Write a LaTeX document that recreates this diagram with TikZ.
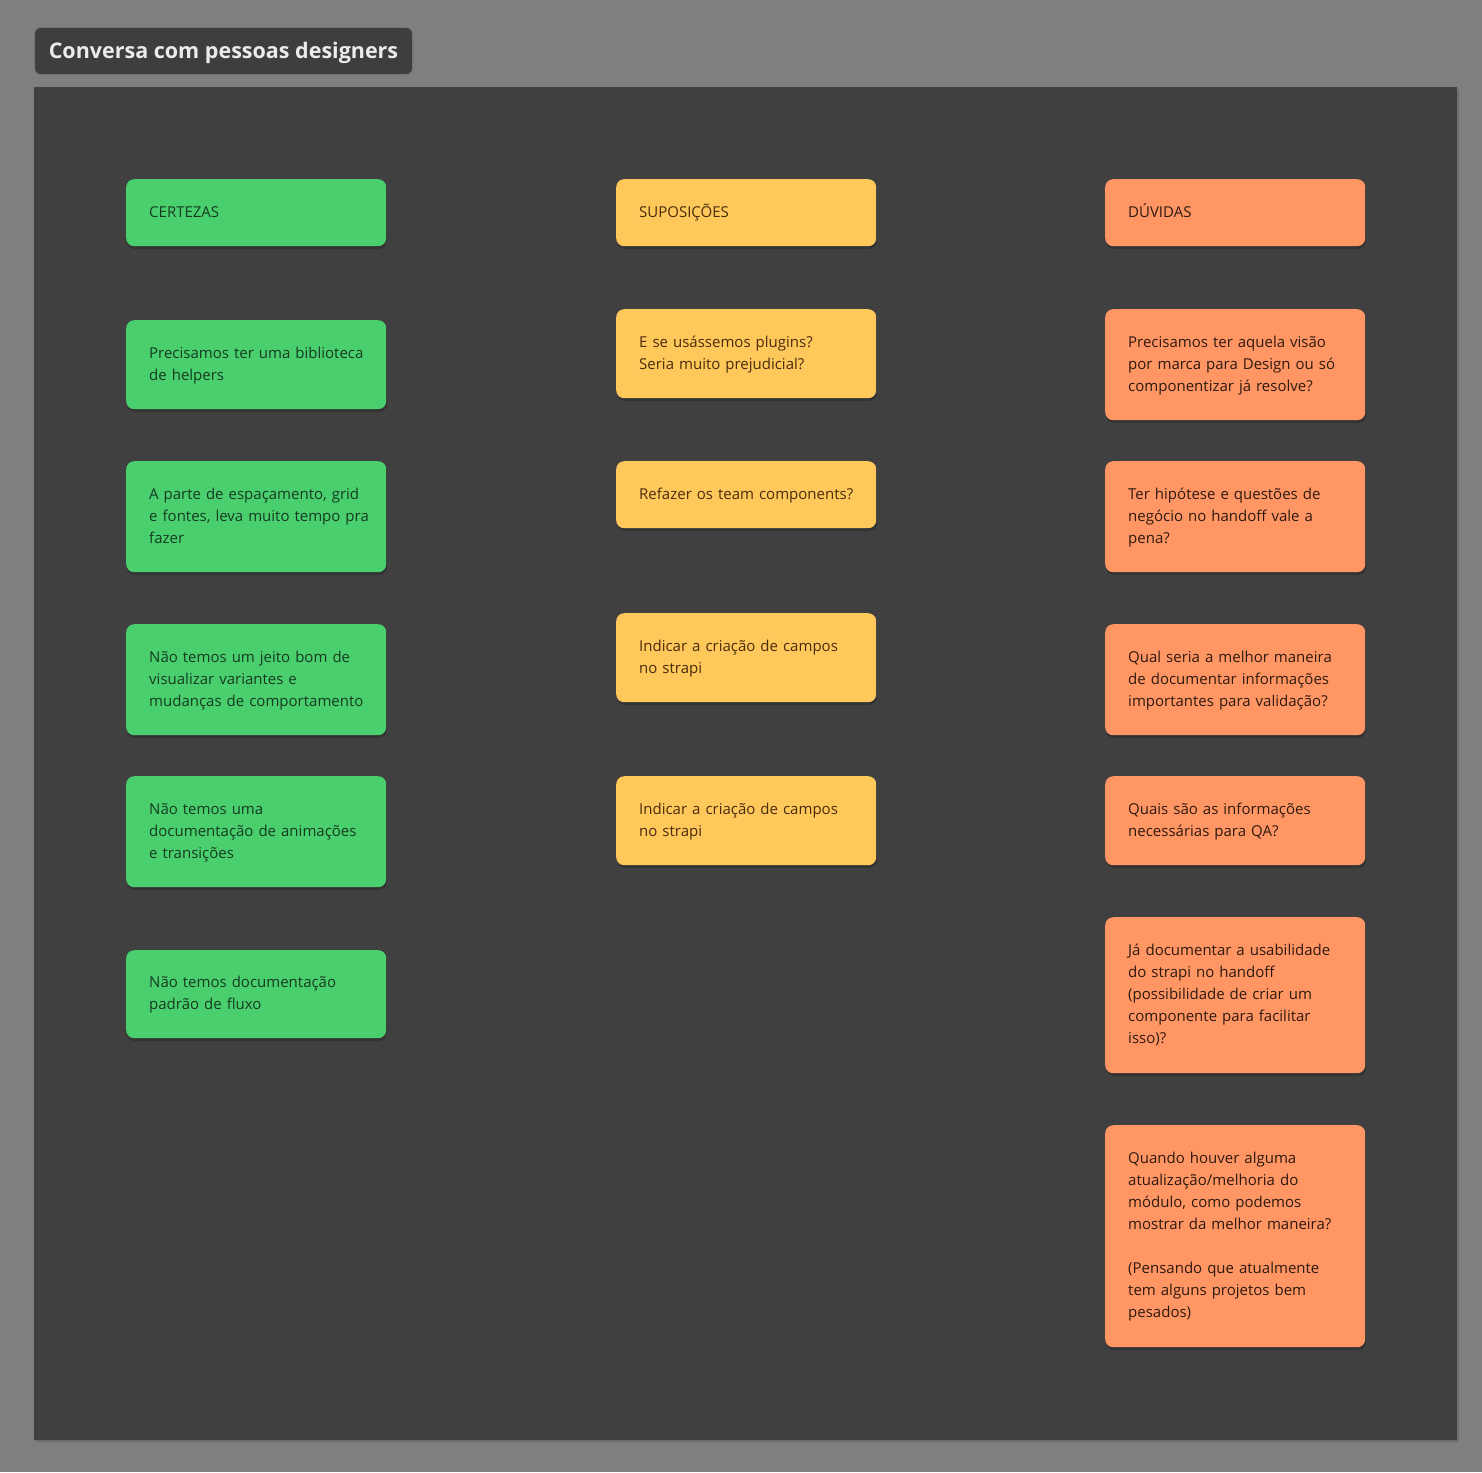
\documentclass[tikz,border=0pt]{standalone}
\usepackage{fontspec}
\setmainfont{Open Sans}
\definecolor{bggray}{HTML}{7F7F7F}
\definecolor{panel}{HTML}{404040}
\definecolor{titlebox}{HTML}{3E3E3E}
\definecolor{cgreen}{HTML}{4ACF6F}
\definecolor{cyellow}{HTML}{FFC85A}
\definecolor{corange}{HTML}{FF9664}
\definecolor{tgreen}{HTML}{163B20}
\definecolor{tyellow}{HTML}{4A2C0E}
\definecolor{torange}{HTML}{2E1A10}
\newcommand{\mycard}[6]{%
  \fill[black,opacity=0.2,rounded corners=8pt] (#2+1,#3+3) rectangle ++(260,#4);
  \node[#5, minimum height=#4 pt] (#1) at (#2,#3) {\begin{tabular}{@{}l@{}}#6\end{tabular}};
}
\begin{document}
\begin{tikzpicture}[x=1pt,y=-1pt,
  cardbase/.style={rounded corners=8pt, minimum width=260pt, text width=214pt, inner xsep=23pt, inner ysep=0pt, align=left, anchor=north west, font=\fontsize{15}{22}\selectfont},
  greencard/.style={cardbase, fill=cgreen, text=tgreen},
  yellowcard/.style={cardbase, fill=cyellow, text=tyellow},
  orangecard/.style={cardbase, fill=corange, text=torange},
]
% background
\fill[bggray] (0,0) rectangle (1482,1472);
\useasboundingbox (0,0) rectangle (1482,1472);
% panel
\fill[black,opacity=0.15] (36,89) rectangle (1459,1442);
\fill[panel] (34,87) rectangle (1457,1440);
% title
\node[draw=black!55, fill=titlebox, rounded corners=6pt, line width=1pt, anchor=north west, minimum width=378pt, minimum height=47pt, inner xsep=0pt, inner ysep=0pt, text height=17.5pt, text depth=2.5pt, text=white!92!black, font=\fontsize{21.5}{24}\selectfont\bfseries] (title) at (34,27) {Conversa com pessoas designers};
% green column
\mycard{g0}{126}{179}{67}{greencard}{CERTEZAS}
\mycard{g1}{126}{320}{89}{greencard}{Precisamos ter uma biblioteca\\de helpers}
\mycard{g2}{126}{461}{111}{greencard}{A parte de espaçamento, grid\\e fontes, leva muito tempo pra\\fazer}
\mycard{g3}{126}{624}{111}{greencard}{Não temos um jeito bom de\\visualizar variantes e\\mudanças de comportamento}
\mycard{g4}{126}{776}{111}{greencard}{Não temos uma\\documentação de animações\\e transições}
\mycard{g5}{126}{950}{88}{greencard}{Não temos documentação\\padrão de fluxo}
% yellow column
\mycard{y0}{616}{179}{67}{yellowcard}{SUPOSIÇÕES}
\mycard{y1}{616}{309}{89}{yellowcard}{E se usássemos plugins?\\Seria muito prejudicial?}
\mycard{y2}{616}{461}{67}{yellowcard}{Refazer os team components?}
\mycard{y3}{616}{613}{89}{yellowcard}{Indicar a criação de campos\\no strapi}
\mycard{y4}{616}{776}{89}{yellowcard}{Indicar a criação de campos\\no strapi}
% orange column
\mycard{o0}{1105}{179}{67}{orangecard}{DÚVIDAS}
\mycard{o1}{1105}{309}{111}{orangecard}{Precisamos ter aquela visão\\por marca para Design ou só\\componentizar já resolve?}
\mycard{o2}{1105}{461}{111}{orangecard}{Ter hipótese e questões de\\negócio no handoff vale a\\pena?}
\mycard{o3}{1105}{624}{111}{orangecard}{Qual seria a melhor maneira\\de documentar informações\\importantes para validação?}
\mycard{o4}{1105}{776}{89}{orangecard}{Quais são as informações\\necessárias para QA?}
\mycard{o5}{1105}{917}{156}{orangecard}{Já documentar a usabilidade\\do strapi no handoff\\(possibilidade de criar um\\componente para facilitar\\isso)?}
\mycard{o6}{1105}{1125}{222}{orangecard}{Quando houver alguma\\atualização/melhoria do\\módulo, como podemos\\mostrar da melhor maneira?\\[22pt](Pensando que atualmente\\tem alguns projetos bem\\pesados)}
\end{tikzpicture}
\end{document}
